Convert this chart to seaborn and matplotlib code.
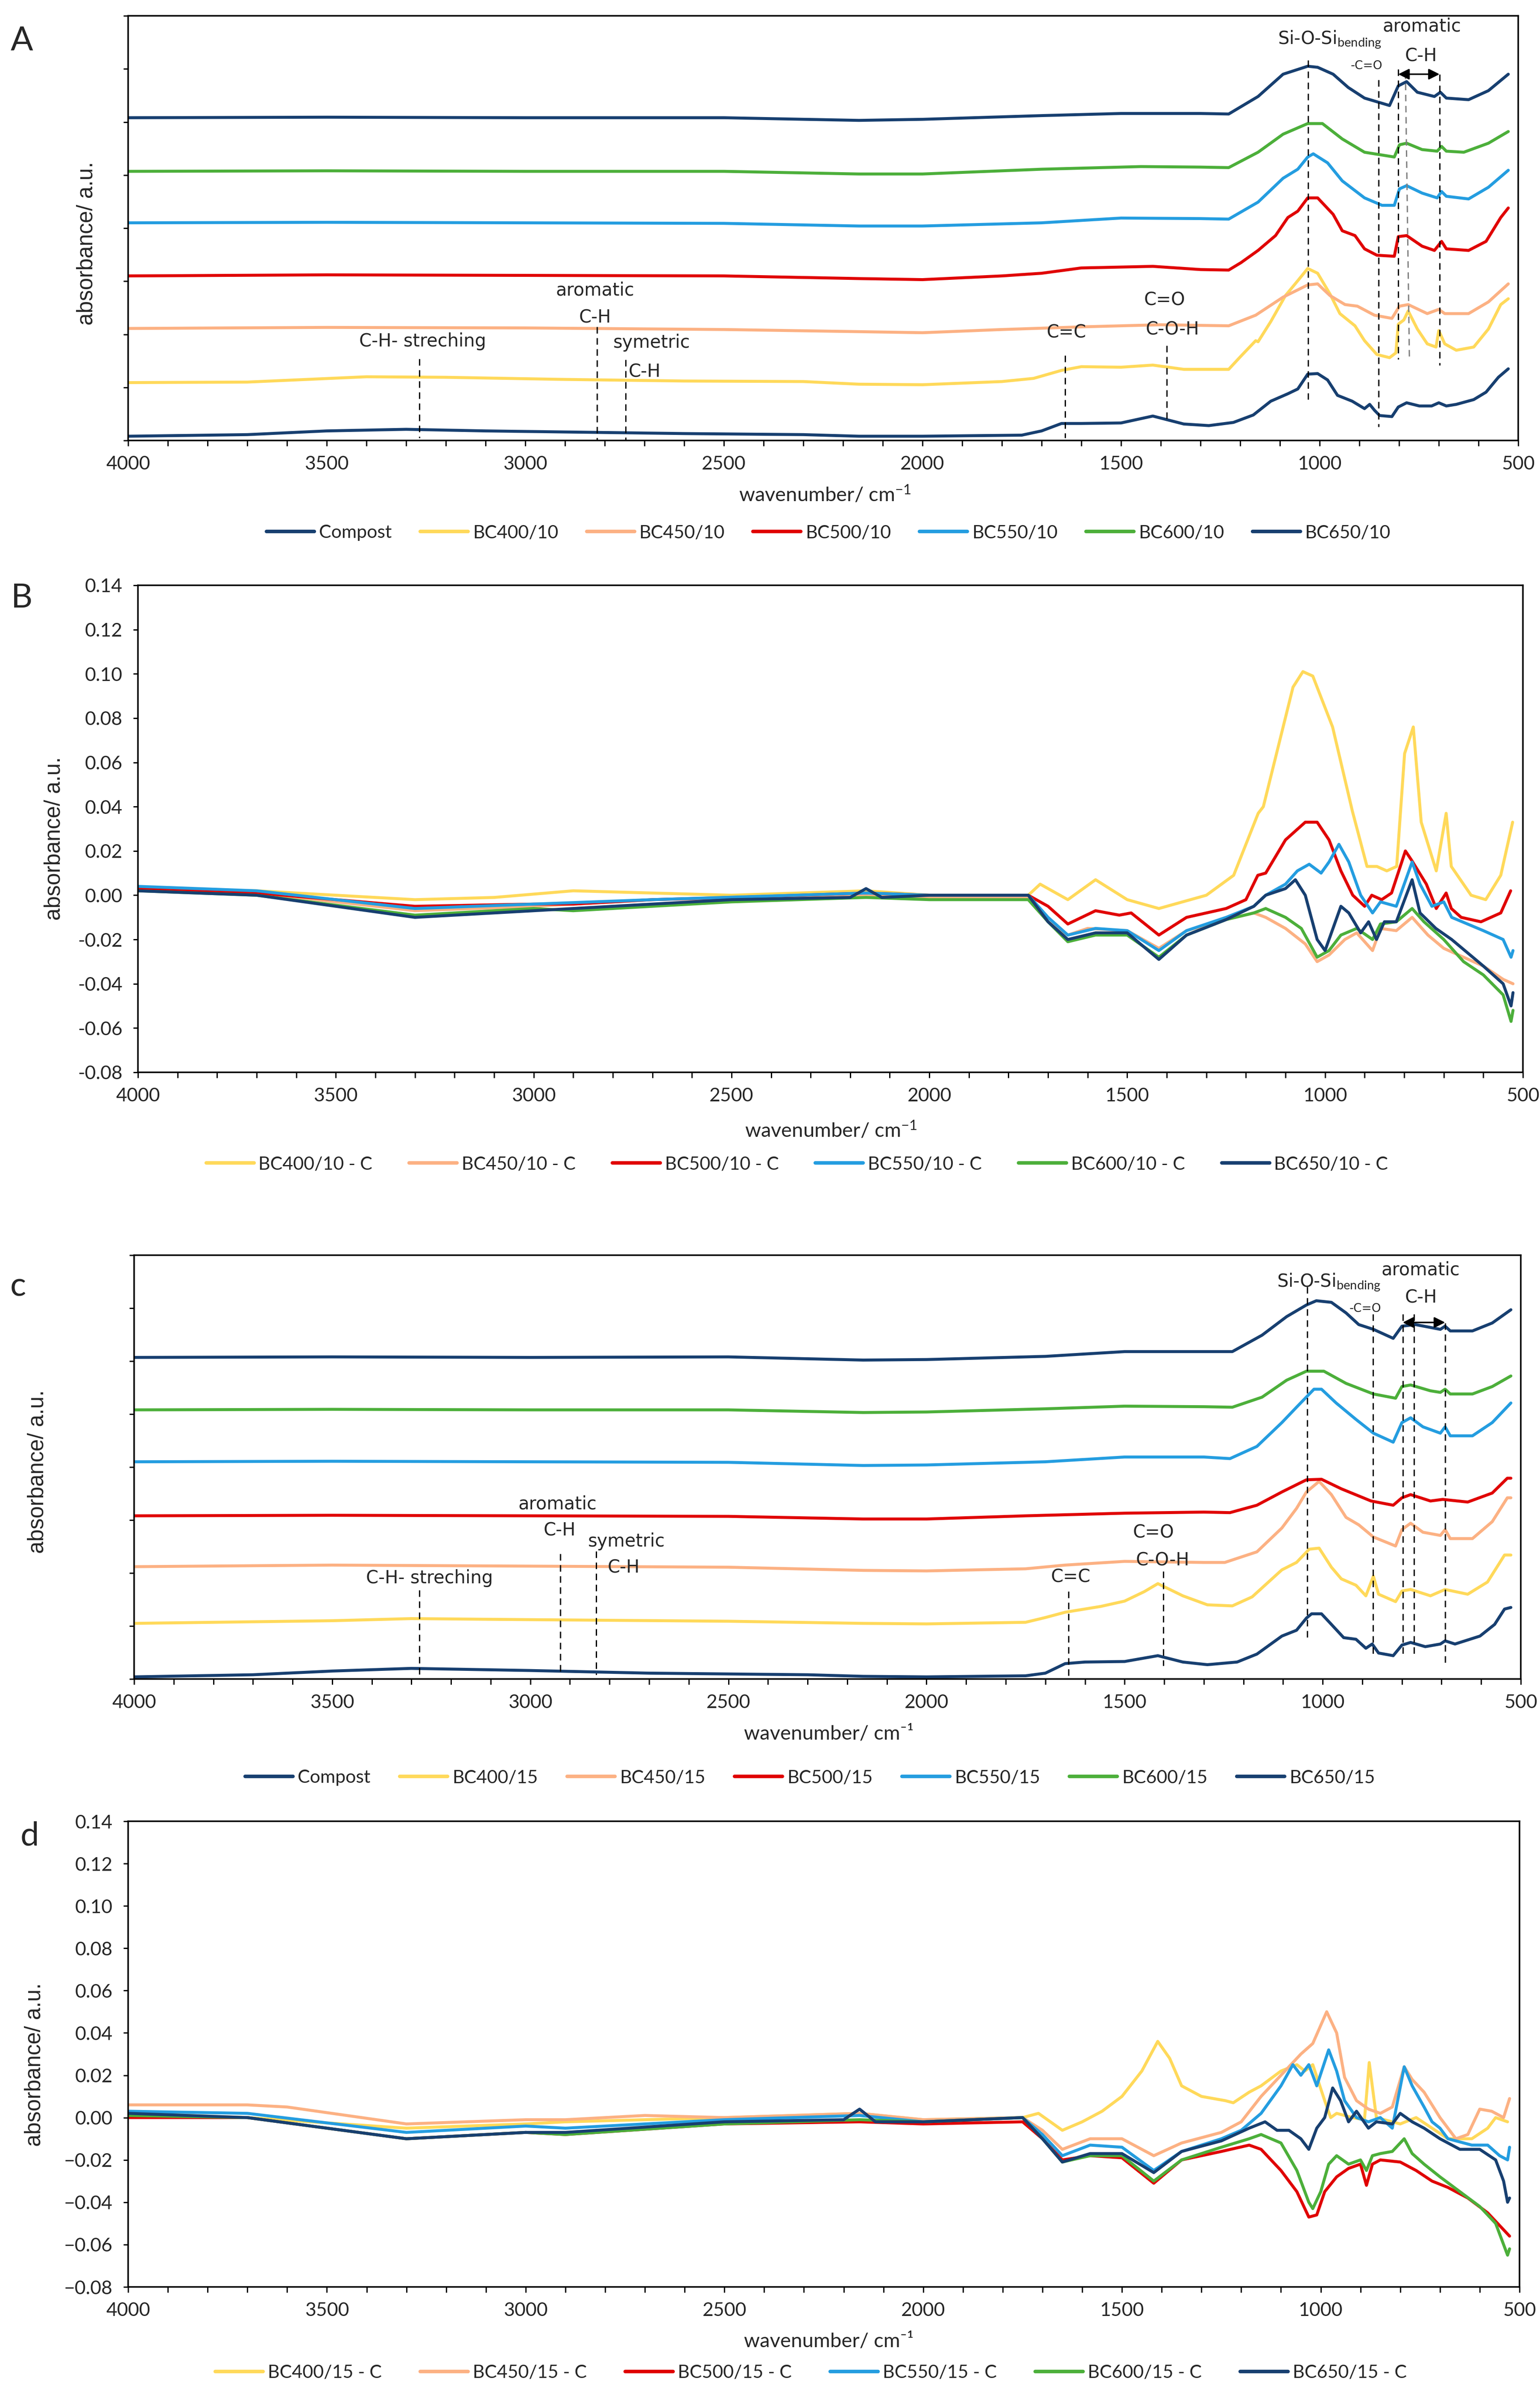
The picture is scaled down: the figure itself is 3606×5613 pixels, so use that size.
import matplotlib
matplotlib.use("Agg")
import matplotlib.pyplot as plt
import matplotlib.ticker as mticker
import seaborn as sns

# ---------------- colours ----------------
NAVY = "#173f70"
YELLOW = "#ffd95a"
SALMON = "#fcb183"
RED = "#e00000"
BLUE = "#249de0"
GREEN = "#4caf3a"

# ---------------- Panel A (offset spectra, 10) ----------------
A_compost_wn = [4000,3700,3500,3300,3100,2900,2600,2300,2160,2000,1750,1700,1650,1600,1500,1420,1342,1279,1217,1167,1123,1080,1055,1030,1005,980,955,918,887,874,862,849,818,802,781,749,718,700,681,656,612,581,550,525]
A_compost_y = [0.08,0.11,0.18,0.21,0.18,0.16,0.13,0.11,0.08,0.08,0.10,0.18,0.32,0.32,0.33,0.46,0.31,0.28,0.34,0.48,0.74,0.88,0.97,1.25,1.26,1.14,0.85,0.74,0.60,0.68,0.57,0.47,0.45,0.63,0.71,0.65,0.65,0.71,0.65,0.68,0.77,0.91,1.19,1.35]
A_400_wn = [4000,3700,3400,3200,2900,2600,2300,2160,2000,1800,1720,1650,1600,1500,1420,1342,1229,1198,1161,1155,1123,1086,1055,1030,1005,974,949,911,887,856,824,808,802,788,777,754,729,707,700,685,656,612,575,544,525]
A_400_y = [1.09,1.10,1.20,1.19,1.15,1.12,1.11,1.06,1.05,1.11,1.17,1.32,1.39,1.38,1.42,1.34,1.34,1.59,1.88,1.86,2.24,2.73,3.01,3.24,3.15,2.76,2.39,2.16,1.88,1.62,1.56,1.65,2.19,2.27,2.44,2.10,1.82,1.76,2.07,1.82,1.70,1.76,2.10,2.56,2.67]
A_450_wn = [4000,3500,3000,2500,2160,2000,1800,1600,1400,1229,1161,1092,1030,1005,974,936,905,862,818,799,777,729,700,685,625,575,525]
A_450_y = [2.11,2.13,2.12,2.09,2.05,2.03,2.09,2.14,2.18,2.16,2.36,2.70,2.93,2.95,2.73,2.56,2.53,2.36,2.30,2.53,2.56,2.39,2.47,2.39,2.39,2.61,2.95]
A_500_wn = [4000,3500,3000,2500,2160,2000,1800,1700,1600,1420,1300,1229,1198,1155,1111,1080,1055,1030,1005,966,943,911,887,856,812,802,781,742,711,693,681,625,581,544,525]
A_500_y = [3.10,3.12,3.11,3.10,3.05,3.03,3.10,3.15,3.25,3.28,3.22,3.21,3.35,3.58,3.86,4.20,4.32,4.57,4.57,4.26,3.95,3.86,3.61,3.49,3.47,3.84,3.86,3.66,3.58,3.75,3.61,3.58,3.75,4.20,4.38]
A_550_wn = [4000,3500,3000,2500,2160,2000,1700,1500,1300,1229,1155,1092,1055,1030,1016,980,943,887,843,812,799,781,742,704,693,681,625,575,525]
A_550_y = [4.10,4.11,4.10,4.09,4.04,4.04,4.10,4.19,4.18,4.17,4.49,4.94,5.11,5.34,5.40,5.23,4.89,4.57,4.43,4.43,4.74,4.80,4.66,4.57,4.69,4.60,4.55,4.77,5.09]
A_600_wn = [4000,3500,3000,2500,2160,2000,1700,1450,1300,1229,1155,1092,1030,993,943,887,812,799,781,742,704,693,681,637,575,525]
A_600_y = [5.07,5.08,5.07,5.07,5.02,5.02,5.11,5.16,5.15,5.14,5.43,5.77,5.97,5.97,5.68,5.43,5.34,5.57,5.60,5.48,5.45,5.54,5.45,5.43,5.60,5.82]
A_650_wn = [4000,3500,3000,2500,2160,2000,1700,1500,1300,1229,1155,1092,1030,1005,966,928,887,824,802,781,754,711,696,681,625,575,525]
A_650_y = [6.08,6.09,6.08,6.08,6.03,6.05,6.12,6.16,6.16,6.15,6.48,6.90,7.05,7.03,6.90,6.65,6.45,6.31,6.68,6.76,6.56,6.48,6.56,6.45,6.42,6.59,6.90]
A_labels = ["Compost", "BC400/10", "BC450/10", "BC500/10", "BC550/10", "BC600/10", "BC650/10"]

# ---------------- Panel B (difference spectra, 10) ----------------
B_400_wn = [4000,3700,3500,3300,3100,2900,2700,2500,2160,2000,1750,1720,1650,1580,1500,1420,1300,1231,1169,1156,1106,1081,1056,1031,981,931,894,869,844,819,799,777,757,719,694,681,631,594,556,526]
B_400_y = [0.003,0.002,0.000,-0.002,-0.001,0.002,0.001,0.000,0.002,0.000,0.000,0.005,-0.002,0.007,-0.002,-0.006,0.000,0.009,0.037,0.040,0.076,0.094,0.101,0.099,0.076,0.038,0.013,0.013,0.011,0.013,0.064,0.076,0.033,0.011,0.037,0.013,0.000,-0.002,0.009,0.033]
B_450_wn = [4000,3700,3300,3000,2700,2160,2000,1750,1700,1650,1600,1500,1420,1350,1250,1180,1150,1100,1050,1020,990,950,920,880,860,820,780,740,700,650,600,550,525]
B_450_y = [0.003,0.001,-0.007,-0.005,-0.002,0.000,-0.001,-0.001,-0.012,-0.018,-0.015,-0.016,-0.024,-0.016,-0.011,-0.008,-0.010,-0.015,-0.022,-0.030,-0.027,-0.020,-0.017,-0.025,-0.015,-0.016,-0.010,-0.018,-0.024,-0.028,-0.032,-0.038,-0.040]
B_500_wn = [4000,3700,3300,3000,2900,2700,2500,2160,2000,1750,1700,1650,1580,1520,1490,1420,1350,1250,1200,1170,1150,1100,1050,1020,990,960,930,900,882,857,832,797,782,744,719,694,681,656,606,556,531]
B_500_y = [0.003,0.001,-0.005,-0.004,-0.004,-0.002,-0.001,0.001,0.000,0.000,-0.005,-0.013,-0.007,-0.009,-0.008,-0.018,-0.010,-0.006,-0.002,0.009,0.010,0.025,0.033,0.033,0.025,0.011,0.000,-0.005,0.000,-0.002,0.001,0.020,0.016,0.005,-0.006,0.001,-0.006,-0.010,-0.012,-0.008,0.002]
B_550_wn = [4000,3700,3300,3000,2700,2160,2000,1750,1700,1650,1580,1500,1420,1350,1250,1180,1150,1100,1070,1040,1010,990,965,940,910,880,860,820,780,760,730,700,680,600,550,530,525]
B_550_y = [0.004,0.002,-0.006,-0.004,-0.002,0.001,0.000,0.000,-0.010,-0.018,-0.015,-0.016,-0.025,-0.016,-0.010,-0.005,0.000,0.005,0.011,0.014,0.010,0.015,0.023,0.015,0.000,-0.008,-0.003,-0.005,0.015,0.005,-0.005,-0.003,-0.010,-0.016,-0.020,-0.028,-0.025]
B_600_wn = [4000,3700,3300,3000,2900,2500,2160,2000,1750,1700,1650,1580,1500,1420,1350,1250,1180,1150,1100,1060,1020,990,960,920,880,860,820,780,750,700,650,600,550,530,525]
B_600_y = [0.002,0.000,-0.009,-0.006,-0.007,-0.003,-0.001,-0.002,-0.002,-0.012,-0.021,-0.018,-0.018,-0.028,-0.018,-0.011,-0.008,-0.006,-0.010,-0.015,-0.028,-0.025,-0.018,-0.015,-0.020,-0.013,-0.012,-0.006,-0.012,-0.020,-0.030,-0.036,-0.045,-0.057,-0.052]
B_650_wn = [4000,3700,3300,3000,2900,2500,2200,2160,2120,2000,1750,1700,1650,1580,1500,1420,1350,1250,1180,1150,1100,1075,1050,1020,1000,980,960,940,910,890,870,850,820,780,760,720,680,600,550,530,525]
B_650_y = [0.002,0.000,-0.010,-0.007,-0.006,-0.002,-0.001,0.003,-0.001,0.000,0.000,-0.012,-0.020,-0.017,-0.017,-0.029,-0.018,-0.011,-0.005,0.000,0.003,0.007,0.000,-0.020,-0.025,-0.015,-0.005,-0.008,-0.017,-0.012,-0.020,-0.012,-0.012,0.007,-0.008,-0.015,-0.020,-0.032,-0.040,-0.050,-0.044]
B_labels = ["BC400/10 - C", "BC450/10 - C", "BC500/10 - C", "BC550/10 - C", "BC600/10 - C", "BC650/10 - C"]

# ---------------- Panel c (offset spectra, 15) ----------------
C_compost_wn = [4000,3700,3500,3300,3000,2700,2300,2160,2000,1750,1700,1650,1600,1500,1416,1353,1291,1216,1166,1103,1066,1041,1028,1003,978,947,916,891,875,859,822,800,778,741,703,691,666,603,566,541,525]
C_compost_y = [0.04,0.08,0.15,0.20,0.16,0.11,0.08,0.05,0.04,0.06,0.11,0.29,0.32,0.33,0.44,0.32,0.27,0.32,0.47,0.81,0.92,1.15,1.23,1.23,1.03,0.78,0.75,0.58,0.66,0.49,0.44,0.64,0.69,0.61,0.66,0.72,0.66,0.81,1.03,1.32,1.35]
C_400_wn = [4000,3500,3300,3000,2500,2160,2000,1750,1700,1650,1560,1500,1450,1416,1353,1291,1228,1178,1103,1066,1034,1009,978,953,916,891,872,859,816,800,778,728,691,634,584,541,525]
C_400_y = [1.05,1.10,1.14,1.12,1.09,1.05,1.04,1.07,1.16,1.26,1.37,1.47,1.65,1.80,1.57,1.40,1.38,1.55,2.06,2.20,2.45,2.47,2.11,1.89,1.77,1.57,1.94,1.60,1.46,1.66,1.69,1.57,1.69,1.60,1.83,2.34,2.34]
C_450_wn = [4000,3500,3000,2500,2160,2000,1750,1650,1500,1300,1247,1166,1103,1066,1041,1009,978,941,909,872,816,800,778,747,703,691,678,622,572,534,525]
C_450_y = [2.12,2.15,2.13,2.11,2.05,2.04,2.08,2.15,2.22,2.20,2.20,2.40,2.85,3.22,3.53,3.73,3.48,3.05,2.91,2.68,2.51,2.82,2.94,2.77,2.71,2.82,2.65,2.65,2.97,3.42,3.42]
C_500_wn = [4000,3500,3000,2500,2160,2000,1750,1500,1300,1234,1166,1103,1041,1003,953,878,822,800,778,728,697,634,572,534,525]
C_500_y = [3.08,3.09,3.08,3.07,3.02,3.02,3.08,3.13,3.15,3.14,3.28,3.53,3.76,3.77,3.59,3.36,3.28,3.42,3.48,3.36,3.39,3.34,3.51,3.79,3.79]
C_550_wn = [4000,3500,3000,2500,2160,2000,1700,1500,1300,1234,1166,1103,1066,1022,1003,966,916,872,822,800,778,747,703,691,678,622,572,525]
C_550_y = [4.10,4.11,4.10,4.09,4.03,4.04,4.10,4.19,4.19,4.16,4.39,4.84,5.13,5.47,5.47,5.21,4.90,4.64,4.47,4.84,4.93,4.76,4.64,4.76,4.59,4.59,4.84,5.21]
C_600_wn = [4000,3500,3000,2500,2160,2000,1700,1500,1300,1228,1153,1091,1041,997,941,872,816,800,778,728,703,691,678,622,572,525]
C_600_y = [5.08,5.09,5.08,5.08,5.03,5.04,5.10,5.15,5.14,5.13,5.32,5.64,5.81,5.81,5.58,5.38,5.30,5.52,5.55,5.44,5.41,5.47,5.38,5.38,5.52,5.72]
C_650_wn = [4000,3500,3000,2500,2160,2000,1700,1500,1300,1228,1153,1091,1041,1016,978,941,909,872,822,800,766,703,691,678,622,572,525]
C_650_y = [6.07,6.08,6.07,6.08,6.02,6.03,6.09,6.18,6.18,6.18,6.49,6.84,7.06,7.14,7.11,6.91,6.69,6.60,6.43,6.66,6.69,6.60,6.66,6.57,6.57,6.72,6.97]
C_labels = ["Compost", "BC400/15", "BC450/15", "BC500/15", "BC550/15", "BC600/15", "BC650/15"]

# ---------------- Panel d (difference spectra, 15) ----------------
D_400_wn = [4000,3700,3300,3000,2900,2500,2160,2000,1750,1710,1650,1600,1550,1500,1450,1410,1380,1350,1300,1240,1220,1180,1150,1100,1060,1040,1020,990,975,960,920,890,878,860,800,760,720,680,620,580,560,530]
D_400_y = [0.002,0.000,-0.005,-0.003,-0.002,0.000,0.002,-0.001,0.000,0.002,-0.006,-0.002,0.003,0.010,0.022,0.036,0.028,0.015,0.010,0.008,0.007,0.012,0.015,0.022,0.025,0.022,0.025,0.008,0.000,0.002,0.000,-0.001,0.026,0.000,-0.003,0.000,-0.005,-0.010,-0.010,-0.005,0.000,-0.002]
D_450_wn = [4000,3700,3600,3300,3000,2900,2700,2500,2160,2000,1750,1700,1650,1580,1500,1420,1350,1250,1200,1150,1100,1050,1020,985,960,940,910,880,850,820,790,770,740,700,660,630,600,570,540,525]
D_450_y = [0.006,0.006,0.005,-0.003,-0.001,-0.001,0.001,0.000,0.002,-0.001,0.000,-0.006,-0.015,-0.010,-0.010,-0.018,-0.012,-0.007,-0.002,0.010,0.020,0.030,0.035,0.050,0.040,0.019,0.008,0.004,0.002,0.005,0.024,0.018,0.012,0.000,-0.010,-0.008,0.004,0.003,0.000,0.009]
D_500_wn = [4000,3700,3300,3000,2900,2500,2160,2000,1750,1700,1650,1580,1500,1420,1350,1250,1180,1150,1100,1060,1030,1010,990,960,930,900,885,870,850,800,760,720,680,630,580,540,525]
D_500_y = [0.000,0.000,-0.010,-0.007,-0.008,-0.003,-0.002,-0.003,-0.002,-0.010,-0.020,-0.018,-0.019,-0.031,-0.020,-0.016,-0.013,-0.015,-0.025,-0.035,-0.047,-0.046,-0.035,-0.028,-0.024,-0.022,-0.032,-0.022,-0.020,-0.021,-0.025,-0.030,-0.033,-0.038,-0.045,-0.053,-0.056]
D_550_wn = [4000,3700,3300,3000,2900,2500,2160,2000,1750,1700,1650,1580,1500,1420,1350,1250,1200,1150,1100,1070,1050,1030,1010,980,960,940,910,880,850,820,790,770,740,720,700,680,620,580,550,530,525]
D_550_y = [0.003,0.002,-0.007,-0.004,-0.005,-0.001,0.001,-0.002,0.000,-0.008,-0.018,-0.013,-0.014,-0.025,-0.016,-0.010,-0.006,0.002,0.015,0.025,0.020,0.025,0.015,0.032,0.022,0.008,0.000,-0.002,0.000,-0.005,0.024,0.015,0.005,-0.002,-0.005,-0.010,-0.013,-0.013,-0.018,-0.020,-0.014]
D_600_wn = [4000,3700,3300,3000,2900,2500,2160,2000,1750,1700,1650,1580,1500,1420,1350,1250,1180,1150,1100,1060,1030,1020,1000,980,960,930,900,885,870,850,820,790,770,740,700,650,600,560,530,525]
D_600_y = [0.001,0.000,-0.010,-0.007,-0.008,-0.003,-0.001,-0.002,0.000,-0.010,-0.021,-0.018,-0.018,-0.030,-0.020,-0.014,-0.010,-0.008,-0.012,-0.025,-0.040,-0.043,-0.035,-0.022,-0.018,-0.022,-0.020,-0.025,-0.018,-0.017,-0.016,-0.010,-0.017,-0.022,-0.028,-0.035,-0.042,-0.050,-0.065,-0.062]
D_650_wn = [4000,3700,3300,3000,2900,2500,2200,2160,2120,2000,1750,1700,1650,1580,1500,1420,1350,1250,1180,1140,1110,1080,1050,1030,1010,990,970,950,930,910,880,860,820,800,770,740,700,650,600,560,540,530,525]
D_650_y = [0.002,0.000,-0.010,-0.007,-0.007,-0.002,-0.001,0.004,-0.002,-0.002,0.000,-0.010,-0.021,-0.017,-0.017,-0.026,-0.016,-0.011,-0.005,-0.002,-0.006,-0.006,-0.010,-0.015,-0.005,0.000,0.014,0.008,-0.002,0.003,-0.005,-0.002,-0.003,0.002,-0.002,-0.005,-0.010,-0.015,-0.015,-0.020,-0.030,-0.040,-0.038]
D_labels = ["BC400/15 - C", "BC450/15 - C", "BC500/15 - C", "BC550/15 - C", "BC600/15 - C", "BC650/15 - C"]

# ---------------- style ----------------
sns.set_theme(style="white")
plt.rcParams["font.family"] = ["Lato", "DejaVu Sans"]
plt.rcParams["axes.unicode_minus"] = False
plt.rcParams["mathtext.fontset"] = "custom"
plt.rcParams["mathtext.rm"] = "Lato"
plt.rcParams["mathtext.default"] = "regular"

LW = 5.0
TICK_FS = 32
LEG_FS = 31
ANN_FONT = ["DejaVu Sans"]
ANN_FS = 30
W, H = 3606, 5613

fig = plt.figure(figsize=(W / 100, H / 100), dpi=100)


def px_rect(left, top, right, bottom):
    return [left / W, 1 - bottom / H, (right - left) / W, (bottom - top) / H]


axA = fig.add_axes(px_rect(300, 37, 3555, 1031))
axB = fig.add_axes(px_rect(323, 1370, 3566, 2510))
axC = fig.add_axes(px_rect(314, 2938, 3561, 3930))
axD = fig.add_axes(px_rect(300, 4263, 3558, 5353))


def draw(ax, series):
    for wn, vals, color, name in series:
        sns.lineplot(x=wn, y=vals, ax=ax, color=color, linewidth=LW,
                     label=name, sort=False, estimator=None)


draw(axA, [
    (A_compost_wn, A_compost_y, NAVY, A_labels[0]),
    (A_400_wn, A_400_y, YELLOW, A_labels[1]),
    (A_450_wn, A_450_y, SALMON, A_labels[2]),
    (A_500_wn, A_500_y, RED, A_labels[3]),
    (A_550_wn, A_550_y, BLUE, A_labels[4]),
    (A_600_wn, A_600_y, GREEN, A_labels[5]),
    (A_650_wn, A_650_y, NAVY, A_labels[6]),
])
draw(axB, [
    (B_400_wn, B_400_y, YELLOW, B_labels[0]),
    (B_450_wn, B_450_y, SALMON, B_labels[1]),
    (B_500_wn, B_500_y, RED, B_labels[2]),
    (B_550_wn, B_550_y, BLUE, B_labels[3]),
    (B_600_wn, B_600_y, GREEN, B_labels[4]),
    (B_650_wn, B_650_y, NAVY, B_labels[5]),
])
draw(axC, [
    (C_compost_wn, C_compost_y, NAVY, C_labels[0]),
    (C_400_wn, C_400_y, YELLOW, C_labels[1]),
    (C_450_wn, C_450_y, SALMON, C_labels[2]),
    (C_500_wn, C_500_y, RED, C_labels[3]),
    (C_550_wn, C_550_y, BLUE, C_labels[4]),
    (C_600_wn, C_600_y, GREEN, C_labels[5]),
    (C_650_wn, C_650_y, NAVY, C_labels[6]),
])
draw(axD, [
    (D_400_wn, D_400_y, YELLOW, D_labels[0]),
    (D_450_wn, D_450_y, SALMON, D_labels[1]),
    (D_500_wn, D_500_y, RED, D_labels[2]),
    (D_550_wn, D_550_y, BLUE, D_labels[3]),
    (D_600_wn, D_600_y, GREEN, D_labels[4]),
    (D_650_wn, D_650_y, NAVY, D_labels[5]),
])


def fmt_b(v, pos):
    return f"{v:.2f}"


def fmt_d(v, pos):
    s = f"{v:.2f}"
    return s.replace("-", "\u2212")


for ax in (axA, axB, axC, axD):
    ax.set_xlim(4000, 500)
    ax.xaxis.set_major_locator(mticker.MultipleLocator(500))
    ax.xaxis.set_minor_locator(mticker.MultipleLocator(100))
    ax.tick_params(axis="x", which="both", direction="out", length=9, width=2.2,
                   bottom=True, top=False, color="black")
    ax.tick_params(axis="x", which="major", labelsize=TICK_FS, pad=16)
    ax.tick_params(axis="y", which="both", direction="out", length=8, width=2.2,
                   left=True, right=False, color="black")
    for sp in ax.spines.values():
        sp.set_visible(True)
        sp.set_color("black")
        sp.set_linewidth(2.6)
    ax.set_xlabel("")
    ax.set_ylabel("")
    ax.grid(False)

for ax in (axA, axC):
    ax.set_ylim(0, 8)
    ax.yaxis.set_major_locator(mticker.MultipleLocator(1))
    ax.yaxis.set_ticklabels([])
    ax.tick_params(axis="y", labelleft=False)

axB.set_ylim(-0.08, 0.14)
axD.set_ylim(-0.08, 0.14)
for ax, f in ((axB, fmt_b), (axD, fmt_d)):
    ax.yaxis.set_major_locator(mticker.MultipleLocator(0.02))
    ax.yaxis.set_major_formatter(mticker.FuncFormatter(f))
    ax.tick_params(axis="y", labelsize=TICK_FS, pad=18)


# ---------------- legends ----------------
def legend(ax, ncol, cx, cy, spacing):
    leg = ax.legend(loc="center", bbox_to_anchor=(cx, cy), bbox_transform=fig.transFigure,
                    ncol=ncol, frameon=False, fontsize=LEG_FS, handlelength=2.6,
                    handletextpad=0.25, columnspacing=spacing)
    for ln in leg.get_lines():
        ln.set_linewidth(6)
    return leg


legend(axA, 7, 0.538, 1 - 1247 / H, 1.55)
legend(axB, 6, 0.5176, 1 - 2725 / H, 2.0)
legend(axC, 7, 0.526, 1 - 4161 / H, 1.6)
legend(axD, 6, 0.5266, 1 - 5554 / H, 2.1)

# ---------------- axis labels & panel letters ----------------
XLAB = r"wavenumber/ cm$^{-1}$"
XLAB2 = "wavenumber/ cm\u207b\u00b9"
for (x, y, t) in ((1932, 1158, XLAB), (1946, 2646, XLAB), (1941, 4059, XLAB2), (1941, 5481, XLAB2)):
    fig.text(x / W, 1 - y / H, t, ha="center", va="center", fontsize=34)

for (x, y) in ((203, 570), (127, 1963), (88, 3445), (81, 4833)):
    fig.text(x / W, 1 - y / H, "absorbance/ a.u.", rotation=90, ha="center", va="center",
             fontsize=37, family=["Liberation Sans", "DejaVu Sans"])

for (x, y, t) in ((51, 96, "A"), (51, 1401, "B"), (42, 3012, "c"), (69, 4298, "d")):
    fig.text(x / W, 1 - y / H, t, ha="center", va="center", fontsize=56)


# ---------------- annotations ----------------
def vdash(ax, x0, y0, y1, x1=None, color="black"):
    ax.plot([x0, x0 if x1 is None else x1], [y0, y1], color=color, lw=2.2,
            dashes=(5, 3.5), zorder=5)


def note(ax, x, y, t, fs=ANN_FS, ha="center"):
    ax.text(x, y, t, ha=ha, va="center", fontsize=fs, family=ANN_FONT, zorder=6)


def arrow(ax, x0, x1, y):
    ax.annotate("", xy=(x1, y), xytext=(x0, y),
                arrowprops=dict(arrowstyle="<|-|>", color="black", lw=2.6,
                                mutation_scale=38, shrinkA=0, shrinkB=0), zorder=6)


# Panel A
vdash(axA, 3267, 1.54, 0.05)
note(axA, 3259, 1.87, "C-H- streching")
vdash(axA, 2819, 2.14, 0.0)
note(axA, 2824, 2.83, "aromatic")
note(axA, 2824, 2.31, "C-H")
vdash(axA, 2747, 1.52, 0.0)
note(axA, 2682, 1.84, "symetric")
note(axA, 2700, 1.29, "C-H")
vdash(axA, 1641, 1.60, 0.05)
note(axA, 1638, 2.03, "C=C")
vdash(axA, 1385, 1.79, 0.35)
note(axA, 1390, 2.64, "C=O")
note(axA, 1370, 2.09, "C-O-H")
vdash(axA, 1029, 7.16, 0.77)
axA.text(1105, 7.47, r"Si-O-Si$_{\mathrm{bending}}$", ha="left", va="baseline",
         fontsize=ANN_FS, family=ANN_FONT, zorder=6)
vdash(axA, 852, 6.79, 0.26)
note(axA, 882, 7.06, "-C=O", fs=20)
vdash(axA, 802, 6.99, 1.53)
vdash(axA, 784, 6.93, 1.56, x1=774, color="#7f7f7f")
vdash(axA, 698, 6.90, 1.42)
note(axA, 743, 7.80, "aromatic")
note(axA, 745, 7.24, "C-H")
arrow(axA, 802, 698, 6.90)

# Panel c
vdash(axC, 3280, 1.68, 0.08)
note(axC, 3255, 1.90, "C-H- streching")
vdash(axC, 2924, 2.36, 0.08)
note(axC, 2931, 3.30, "aromatic")
note(axC, 2926, 2.80, "C-H")
vdash(axC, 2834, 2.41, 0.08)
note(axC, 2757, 2.60, "symetric")
note(axC, 2764, 2.10, "C-H")
vdash(axC, 1641, 1.65, 0.0)
note(axC, 1636, 1.92, "C=C")
vdash(axC, 1402, 2.03, 0.25)
note(axC, 1427, 2.76, "C=O")
note(axC, 1404, 2.24, "C-O-H")
vdash(axC, 1039, 7.40, 0.78)
axC.text(1116, 7.40, r"Si-O-Si$_{\mathrm{bending}}$", ha="left", va="baseline",
         fontsize=ANN_FS, family=ANN_FONT, zorder=6)
vdash(axC, 873, 6.89, 0.44)
note(axC, 892, 6.99, "-C=O", fs=20)
vdash(axC, 798, 6.89, 0.44)
vdash(axC, 770, 6.89, 0.44)
vdash(axC, 691, 6.72, 0.27)
note(axC, 753, 7.72, "aromatic")
note(axC, 752, 7.20, "C-H")
arrow(axC, 798, 691, 6.73)

fig.savefig("out.png", dpi=100)
